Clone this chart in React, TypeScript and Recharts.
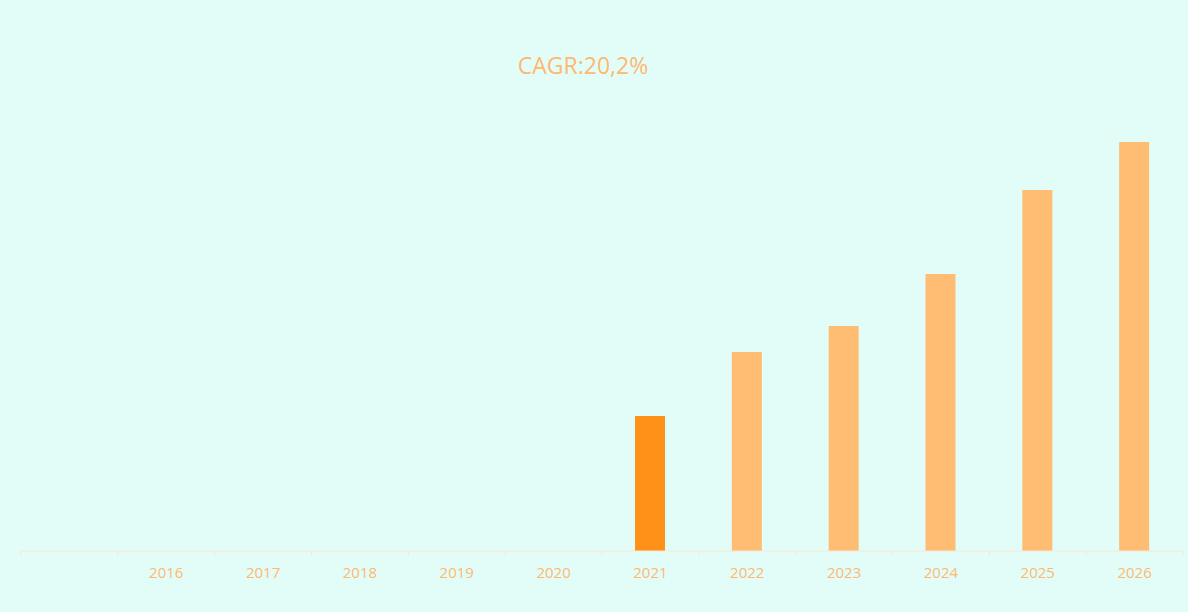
import { BarChart, Bar, XAxis, YAxis, Cell } from "recharts";

const years = ["", "2016", "2017", "2018", "2019", "2020", "2021", "2022", "2023", "2024", "2025", "2026"];
const values = [0, 0, 0, 0, 0, 0, 13.5, 19.9, 22.5, 27.7, 36.1, 40.9];
const highlightYear = "2021";

const data = years.map((year, i) => ({ year, value: values[i] }));

const W = 1188;
const H = 612;
const margin = { top: 101, right: 5, left: 21, bottom: 31 };
const band = (W - margin.left - margin.right) / years.length;

const axisColor = "#fbe6d2";
const textColor = "#ffb870";

const YearTick = (props) => {
    const { x, y, payload, index } = props;
    const left = x - band / 2;
    const isLast = index === years.length - 1;
    return (
        <g>
            <line x1={left} y1={y} x2={left} y2={y + 5} stroke={axisColor} />
            {isLast && <line x1={x + band / 2} y1={y} x2={x + band / 2} y2={y + 5} stroke={axisColor} />}
            <text x={x} y={y + 27} textAnchor="middle" fill={textColor} fontSize={15} fontFamily="'Open Sans', sans-serif">
                {payload.value}
            </text>
        </g>
    );
};

const App = () => {
    return (
        <div style={{ width: W, height: H, background: "#e2fdf8" }}>
            <style>{`body{margin:0;}`}</style>
            <BarChart width={W} height={H} data={data} margin={margin} barCategoryGap={0}>
                <text x={583} y={74} textAnchor="middle" fill={textColor} fontSize={23} fontFamily="'Open Sans', sans-serif">
                    CAGR:20,2%
                </text>
                <XAxis
                    dataKey="year"
                    height={30}
                    interval={0}
                    stroke={axisColor}
                    tickLine={false}
                    tickSize={0}
                    tickMargin={0}
                    tick={<YearTick />}
                />
                <YAxis hide domain={[0, 45]} />
                <Bar dataKey="value" barSize={30} isAnimationActive={false}>
                    {data.map((d, i) => (
                        <Cell key={i} fill={d.year === highlightYear ? "#ff9118" : "#ffbc73"} />
                    ))}
                </Bar>
            </BarChart>
        </div>
    );
};

export default App;
